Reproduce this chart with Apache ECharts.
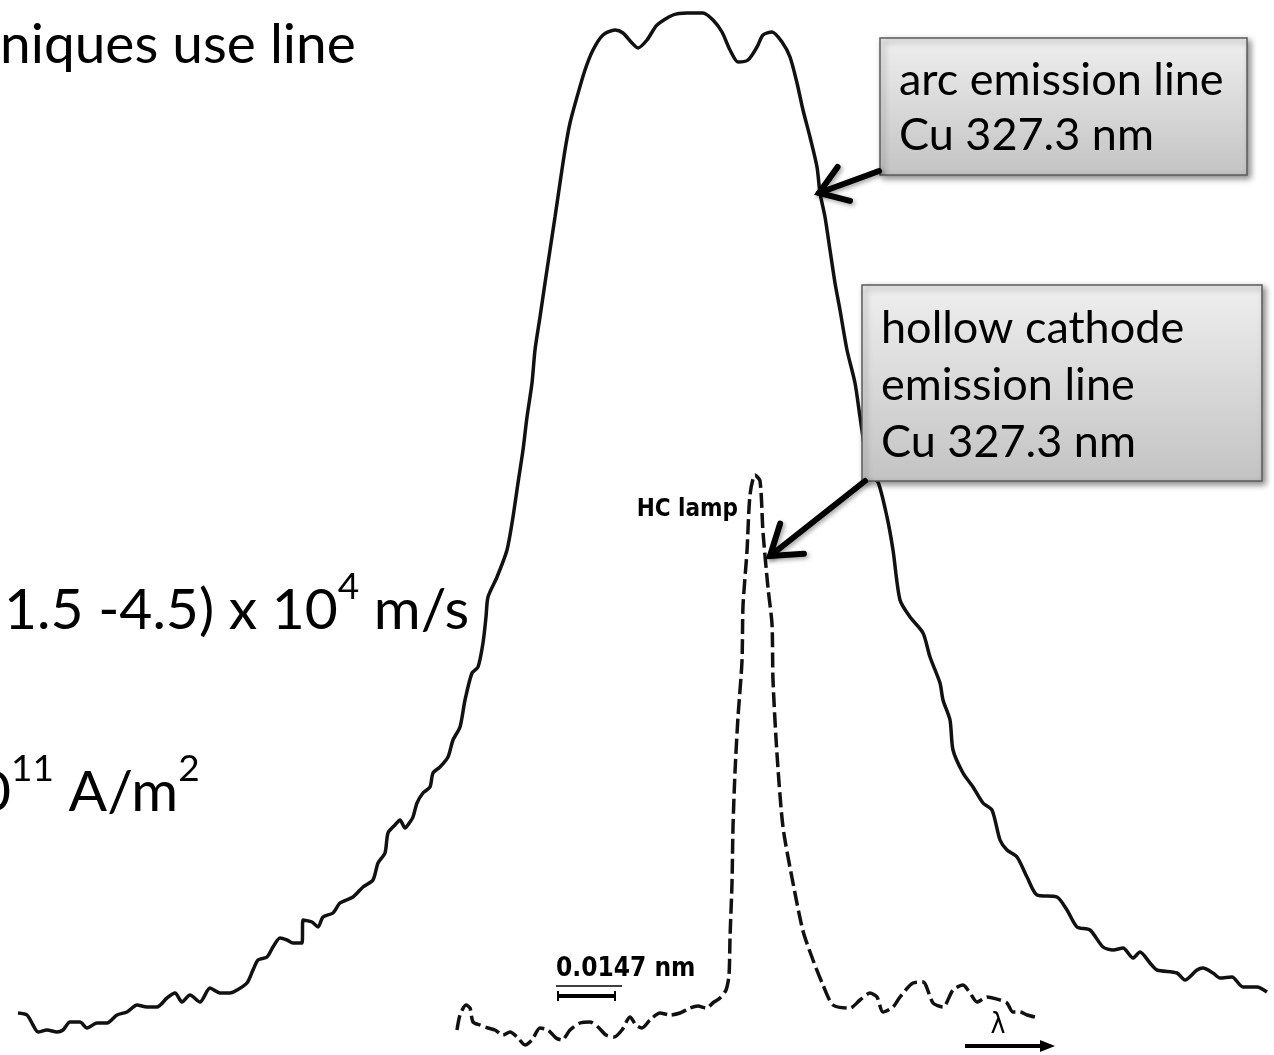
<!DOCTYPE html>
<html>
<head>
<meta charset="utf-8">
<script src="https://cdn.jsdelivr.net/npm/echarts@6/dist/echarts.min.js"></script>
<style>
html,body{margin:0;padding:0;background:#fff;}
#chart{width:1274px;height:1055px;}
</style>
</head>
<body>
<div id="chart"></div>
<script>
// Arc emission line (solid) – wavelength position (a.u.) and intensity (a.u.)
const arcX = [18,27,33,38,47,57,63,70,80,87,97,107,117,127,137,147,157,167,175,182,190,200,210,220,230,237,247,253,258,267,273,280,287,293,302,303,312,318,323,333,340,353,363,373,378,385,388,395,400,405,410,413,417,423,430,433,440,448,453,460,465,472,478,483,486,488,497,507,513,518,523,527,532,535,540,545,550,555,560,565,570,577,585,593,603,615,623,632,638,647,657,673,687,703,713,722,730,738,748,757,763,772,782,790,797,803,810,817,820,825,830,835,840,847,855,860,865,870,878,887,893,900,910,923,930,940,943,950,953,963,973,983,992,1000,1007,1017,1027,1037,1057,1067,1077,1090,1103,1113,1123,1133,1140,1150,1157,1177,1185,1197,1203,1213,1220,1232,1243,1257,1267];
const arcY = [42,40,30,23,25,23,25,33,33,27,32,32,40,43,50,48,48,57,62,53,60,53,67,62,62,65,72,85,95,98,108,117,115,112,112,135,133,128,138,142,152,158,168,175,192,202,222,230,235,227,233,238,252,262,268,282,288,298,315,328,355,382,388,412,438,458,478,505,538,572,605,638,672,705,738,772,805,838,872,905,932,958,985,1005,1020,1025,1022,1012,1007,1015,1030,1040,1042,1042,1035,1023,1005,993,995,1008,1020,1023,1013,998,972,945,918,888,862,838,805,772,745,705,672,638,605,580,573,538,505,455,438,422,398,372,355,335,305,282,268,252,245,215,205,198,178,160,158,145,128,125,108,105,107,97,103,92,85,82,75,85,87,82,77,78,68,68,63];
// Hollow cathode lamp line (dashed)
const hcX = [457,460,466,470,473,480,488,495,503,510,518,525,532,540,548,556,562,570,580,590,598,606,614,622,630,636,642,650,660,670,680,690,698,706,714,720,726,729,730,732,733,735,738,742,743,747,750,755,760,763,768,772,773,777,783,793,803,813,823,833,850,860,870,877,883,893,900,913,923,933,943,953,963,970,977,987,1000,1007,1013,1020,1027,1035];
const hcY = [25,40,50,47,33,30,27,25,20,23,17,10,15,27,25,17,15,25,32,33,28,20,18,25,38,30,27,35,42,40,42,47,49,47,53,57,65,80,117,172,228,283,338,394,449,504,560,580,574,523,467,431,375,301,228,172,124,95,70,50,47,55,62,58,43,48,58,72,73,52,48,65,70,62,53,58,55,52,43,43,40,38];
// Annotation texts
const arcLabel = ['arc emission line', 'Cu 327.3 nm'];
const hcLabel = ['hollow cathode', 'emission line', 'Cu 327.3 nm'];
const scaleLabel = '0.0147 nm';
const lampLabel = 'HC lamp';
// arrow targets on the curves (data coordinates)
const arcArrowTarget = [819, 862];
const hcArrowTarget = [770, 499];

const arcData = arcX.map((x, i) => [x, arcY[i]]);
const hcData = hcX.map((x, i) => [x, hcY[i]]);

const chart = echarts.init(document.getElementById('chart'), null, {renderer: 'canvas'});
chart.setOption({
  animation: false,
  backgroundColor: '#ffffff',
  grid: {left: 0, right: 0, top: 0, bottom: 0},
  xAxis: {type: 'value', min: 0, max: 1274, show: false},
  yAxis: {type: 'value', min: 0, max: 1055, show: false},
  series: [
    {type: 'line', data: arcData, showSymbol: false, smooth: 0.25,
     lineStyle: {color: '#111', width: 3.5}, z: 2},
    {type: 'line', data: hcData, showSymbol: false, smooth: 0.25,
     lineStyle: {color: '#111', width: 3.5, type: [15, 5]}, z: 2}
  ]
});

function arrowGroup(tail, tip, w, head, ang) {
  const dx = tip[0] - tail[0], dy = tip[1] - tail[1];
  const a = Math.atan2(dy, dx);
  const p1 = [tip[0] - head * Math.cos(a - ang), tip[1] - head * Math.sin(a - ang)];
  const p2 = [tip[0] - head * Math.cos(a + ang), tip[1] - head * Math.sin(a + ang)];
  const sh = {shadowBlur: 4, shadowOffsetX: 2, shadowOffsetY: 2, shadowColor: 'rgba(0,0,0,0.35)'};
  return [
    {type: 'polyline', z: 120, shape: {points: [tail, tip]}, style: Object.assign({stroke: '#000', lineWidth: w, lineCap: 'round'}, sh)},
    {type: 'polyline', z: 120, shape: {points: [p1, tip, p2]}, style: Object.assign({stroke: '#000', lineWidth: w, lineCap: 'round', lineJoin: 'miter', fill: null}, sh)}
  ];
}
function box(x, y, w, h) {
  return {type: 'rect', z: 110, shape: {x: x, y: y, width: w, height: h},
    style: {fill: new echarts.graphic.LinearGradient(0, 0, 0, 1, [{offset: 0, color: '#efefef'}, {offset: 1, color: '#c3c3c3'}]),
      stroke: '#5b5b5b', lineWidth: 1.5, shadowBlur: 6, shadowOffsetX: 3, shadowOffsetY: 3, shadowColor: 'rgba(0,0,0,0.45)'}};
}
function txt(s, x, y, font, extra) {
  return {type: 'text', z: 130, style: Object.assign({text: s, x: x, y: y, fill: '#000', font: font, verticalAlign: 'middle'}, extra || {})};
}

const tipArc = chart.convertToPixel({gridIndex: 0}, arcArrowTarget);
const tipHc = chart.convertToPixel({gridIndex: 0}, hcArrowTarget);
const body = 'Lato';
const g = [];
// slide body text fragments
g.push(txt('niques use line', 0, 45, '55px Lato'));
g.push({type: 'text', z: 130, style: {text: '{a|1.5 -4.5) x 10}{s|4}{a| m/s}', x: 4, y: 604, verticalAlign: 'middle',
  rich: {a: {fontSize: 57, fontFamily: body, lineHeight: 70, verticalAlign: 'bottom'}, s: {fontSize: 37, fontFamily: body, verticalAlign: 'top', lineHeight: 40}}}});
g.push({type: 'text', z: 130, style: {text: '{a|0}{s|11}{a| A/m}{s|2}', x: -22, y: 786, verticalAlign: 'middle',
  rich: {a: {fontSize: 57, fontFamily: body, lineHeight: 70, verticalAlign: 'bottom'}, s: {fontSize: 37, fontFamily: body, verticalAlign: 'top', lineHeight: 40}}}});
// boxes
g.push(box(880, 38, 367, 137));
g.push(txt(arcLabel[0], 899, 80, '45px Lato'));
g.push(txt(arcLabel[1], 899, 135, '45px Lato'));
g.push(box(862, 285, 400, 196));
g.push(txt(hcLabel[0], 881, 328, '45px Lato'));
g.push(txt(hcLabel[1], 881, 385, '45px Lato'));
g.push(txt(hcLabel[2], 881, 442, '45px Lato'));
// arrows
arrowGroup([879, 171], tipArc, 6, 32, 0.6).forEach(e => g.push(e));
arrowGroup([865, 481], tipHc, 6, 34, 0.6).forEach(e => g.push(e));
// scanned figure labels
g.push(txt(lampLabel, 738, 510, 'bold 24px "DejaVu Sans Condensed"', {align: 'right'}));
g.push(txt(scaleLabel, 556, 969, 'bold 26px "DejaVu Sans Condensed"'));
g.push({type: 'polyline', z: 130, shape: {points: [[556, 986], [622, 986]]}, style: {stroke: '#000', lineWidth: 1.5}});
g.push({type: 'polyline', z: 130, shape: {points: [[558, 996], [615, 996]]}, style: {stroke: '#000', lineWidth: 4}});
g.push({type: 'polyline', z: 130, shape: {points: [[558, 991], [558, 1001]]}, style: {stroke: '#000', lineWidth: 2}});
g.push({type: 'polyline', z: 130, shape: {points: [[615, 991], [615, 1001]]}, style: {stroke: '#000', lineWidth: 2}});
g.push(txt('λ', 998, 1026, '28px "DejaVu Sans Condensed"', {align: 'center'}));
g.push({type: 'polyline', z: 130, shape: {points: [[965, 1046], [1042, 1046]]}, style: {stroke: '#000', lineWidth: 4}});
g.push({type: 'polygon', z: 130, shape: {points: [[1040, 1040], [1055, 1046], [1040, 1052]]}, style: {fill: '#000'}});
chart.setOption({graphic: g});
</script>
</body>
</html>
